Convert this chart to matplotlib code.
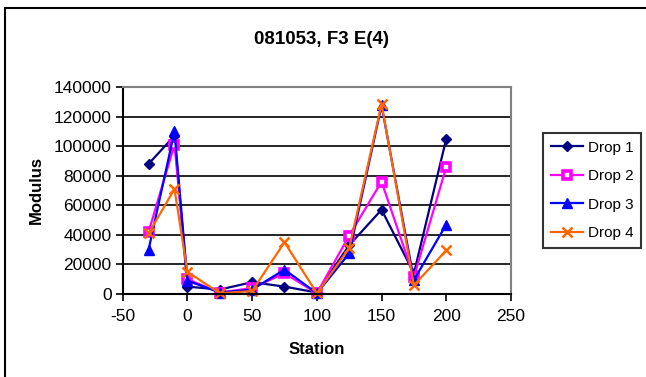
import matplotlib
matplotlib.use("Agg")
import matplotlib.pyplot as plt
from matplotlib.patches import Rectangle

plt.rcParams['font.family'] = ['Liberation Sans', 'DejaVu Sans']
plt.rcParams['axes.unicode_minus'] = False

station = [-30, -10, 0, 25, 50, 75, 100, 125, 150, 175, 200]
drop1 = [88000, 107000, 5000, 3000, 8000, 5000, 1000, 33000, 57000, 14000, 105000]
drop2 = [42000, 101000, 10000, 1000, 4000, 14000, 500, 39500, 76000, 11500, 86000]
drop3 = [30000, 110000, 9000, 1000, 3000, 16500, 500, 27500, 127500, 9500, 47000]
drop4 = [41000, 71000, 15000, 500, 2000, 35000, 500, 31000, 128500, 6000, 29500]

series = [
    ("Drop 1", drop1, dict(color="#000080", marker="D", ms=5.5, mfc="#000080", mec="#000080")),
    ("Drop 2", drop2, dict(color="#FF00FF", marker="s", ms=5.5, mfc="white", mec="#FF00FF", mew=2.6)),
    ("Drop 3", drop3, dict(color="#0000FF", marker="^", ms=6.5, mfc="#0000FF", mec="#0000FF")),
    ("Drop 4", drop4, dict(color="#FF6600", marker="x", ms=7.5, mec="#FF6600", mew=1.8)),
]

W, H = 646, 377
fig = plt.figure(figsize=(W / 100, H / 100), dpi=100)

# outer chart frame
fig.patches.append(Rectangle((5 / W, -0.2), 1.2, (H - 8) / H + 0.2, transform=fig.transFigure,
                             fill=False, edgecolor="black", linewidth=1.5))

ax = fig.add_axes([122.7 / W, (H - 294) / H, (511 - 122.7) / W, (294 - 87) / H])

for label, vals, style in series:
    ax.plot(station, vals, label=label, linewidth=1.6, clip_on=False, **style)

ax.set_xlim(-50, 250)
ax.set_ylim(0, 140000)
ax.set_xticks(range(-50, 251, 50))
ax.set_yticks(range(0, 140001, 20000))
ax.yaxis.grid(True, color="black", linewidth=1.2)
ax.set_axisbelow(True)

for side in ("left", "bottom"):
    ax.spines[side].set_color("black")
    ax.spines[side].set_linewidth(1.5)
for side in ("top", "right"):
    ax.spines[side].set_color("#808080")
    ax.spines[side].set_linewidth(1.5)

ax.tick_params(axis="both", direction="out", length=5, width=1.2, labelsize=12.5,
               colors="black")
ax.tick_params(axis="x", pad=6)
ax.tick_params(axis="y", pad=3)

fig.text(322 / W, 1 - 40 / H, "081053, F3 E(4)", ha="center", va="center",
         fontsize=13.5, fontweight="bold")
fig.text(317 / W, 1 - 350 / H, "Station", ha="center", va="center",
         fontsize=12, fontweight="bold")
fig.text(36 / W, 1 - 190 / H, "Modulus", ha="center", va="center", rotation=90,
         fontsize=12, fontweight="bold")

leg = fig.legend(loc="upper left", bbox_to_anchor=(543 / W, 1 - 133 / H),
                 frameon=True, fancybox=False, fontsize=11, handlelength=2.1,
                 handletextpad=0.35, labelspacing=0.95, borderpad=0.5,
                 borderaxespad=0)
leg.get_frame().set_edgecolor("black")
leg.get_frame().set_linewidth(1.5)

fig.savefig("out.png", dpi=100)
